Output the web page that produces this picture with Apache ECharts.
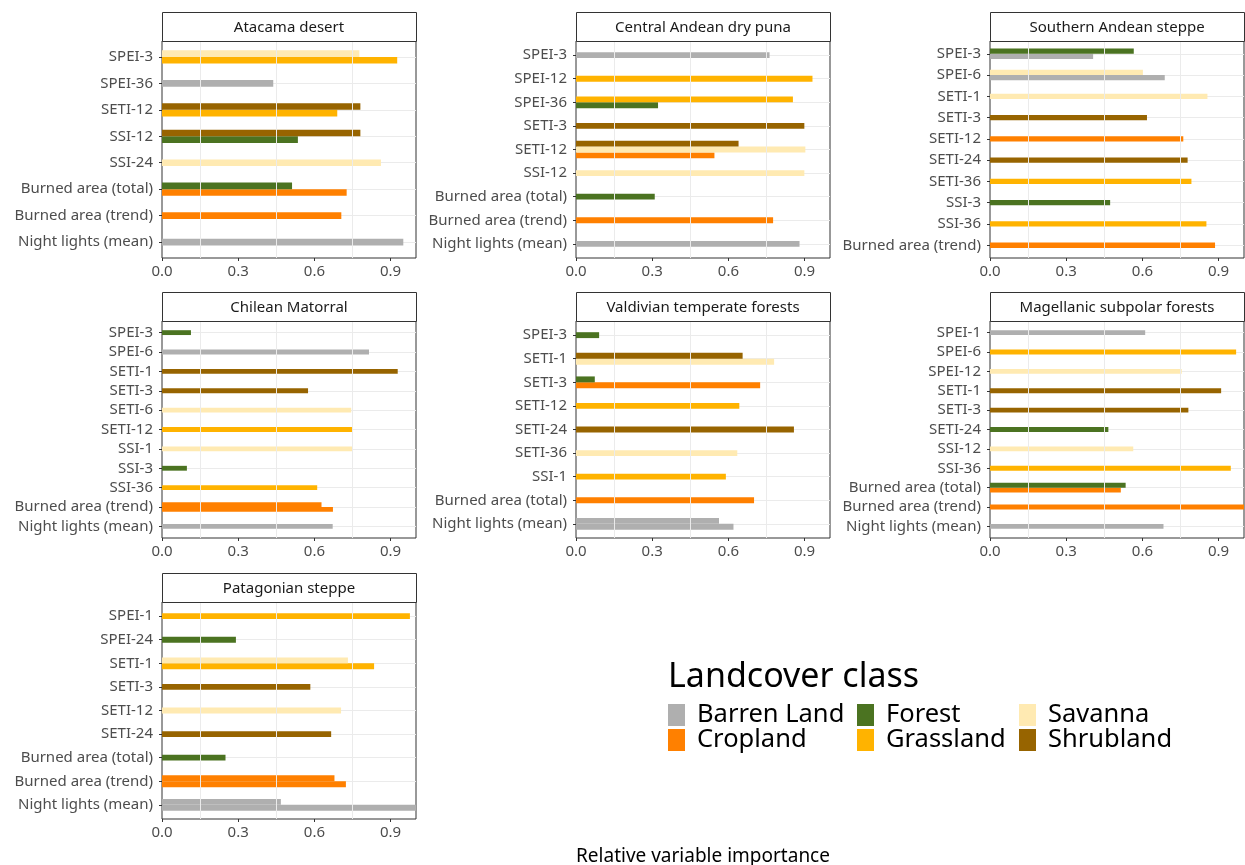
<!DOCTYPE html>
<html>
<head>
<meta charset="utf-8">
<title>Relative variable importance by ecoregion</title>
<script src="https://cdn.jsdelivr.net/npm/echarts@6/dist/echarts.min.js"></script>
<style>
  html, body { margin: 0; padding: 0; background: #fff; }
  #chart { width: 1245px; height: 865px; }
</style>
</head>
<body>
<div id="chart"></div>
<script>
// Landcover classes (legend order) and their fill colours
const classNames = ['Barren Land', 'Cropland', 'Forest', 'Grassland', 'Savanna', 'Shrubland'];
const classColors = ['#afafaf', '#ff8000', '#4b7321', '#ffb300', '#ffeab2', '#976400'];

// x-axis breaks
const xTicks = [0, 0.3, 0.6, 0.9];
const minorBreaks = [0.15, 0.45, 0.75];

// Each row: [variable, landcover class, relative importance]; listed top to bottom
const atacamaRows = [
  ['SPEI-3', 'Savanna', 0.777], ['SPEI-3', 'Grassland', 0.926],
  ['SPEI-36', 'Barren Land', 0.438],
  ['SETI-12', 'Shrubland', 0.781], ['SETI-12', 'Grassland', 0.690],
  ['SSI-12', 'Shrubland', 0.781], ['SSI-12', 'Forest', 0.535],
  ['SSI-24', 'Savanna', 0.862],
  ['Burned area (total)', 'Forest', 0.512], ['Burned area (total)', 'Cropland', 0.727],
  ['Burned area (trend)', 'Cropland', 0.706],
  ['Night lights (mean)', 'Barren Land', 0.950]
];
const centralAndeanRows = [
  ['SPEI-3', 'Barren Land', 0.762],
  ['SPEI-12', 'Grassland', 0.931],
  ['SPEI-36', 'Grassland', 0.854], ['SPEI-36', 'Forest', 0.323],
  ['SETI-3', 'Shrubland', 0.899],
  ['SETI-12', 'Shrubland', 0.640], ['SETI-12', 'Savanna', 0.903], ['SETI-12', 'Cropland', 0.545],
  ['SSI-12', 'Savanna', 0.899],
  ['Burned area (total)', 'Forest', 0.310],
  ['Burned area (trend)', 'Cropland', 0.776],
  ['Night lights (mean)', 'Barren Land', 0.880]
];
const southernAndeanRows = [
  ['SPEI-3', 'Forest', 0.566], ['SPEI-3', 'Barren Land', 0.406],
  ['SPEI-6', 'Savanna', 0.602], ['SPEI-6', 'Barren Land', 0.688],
  ['SETI-1', 'Savanna', 0.856],
  ['SETI-3', 'Shrubland', 0.618],
  ['SETI-12', 'Cropland', 0.761],
  ['SETI-24', 'Shrubland', 0.778],
  ['SETI-36', 'Grassland', 0.793],
  ['SSI-3', 'Forest', 0.473],
  ['SSI-36', 'Grassland', 0.852],
  ['Burned area (trend)', 'Cropland', 0.886]
];
const chileanMatorralRows = [
  ['SPEI-3', 'Forest', 0.114],
  ['SPEI-6', 'Barren Land', 0.815],
  ['SETI-1', 'Shrubland', 0.928],
  ['SETI-3', 'Shrubland', 0.575],
  ['SETI-6', 'Savanna', 0.745],
  ['SETI-12', 'Grassland', 0.748],
  ['SSI-1', 'Savanna', 0.751],
  ['SSI-3', 'Forest', 0.098],
  ['SSI-36', 'Grassland', 0.611],
  ['Burned area (trend)', 'Cropland', 0.628], ['Burned area (trend)', 'Cropland', 0.673],
  ['Night lights (mean)', 'Barren Land', 0.672]
];
const valdivianRows = [
  ['SPEI-3', 'Forest', 0.091],
  ['SETI-1', 'Shrubland', 0.656], ['SETI-1', 'Savanna', 0.780],
  ['SETI-3', 'Forest', 0.074], ['SETI-3', 'Cropland', 0.725],
  ['SETI-12', 'Grassland', 0.643],
  ['SETI-24', 'Shrubland', 0.858],
  ['SETI-36', 'Savanna', 0.635],
  ['SSI-1', 'Grassland', 0.590],
  ['Burned area (total)', 'Cropland', 0.701],
  ['Night lights (mean)', 'Barren Land', 0.563], ['Night lights (mean)', 'Barren Land', 0.620]
];
const magellanicRows = [
  ['SPEI-1', 'Barren Land', 0.611],
  ['SPEI-6', 'Grassland', 0.969],
  ['SPEI-12', 'Savanna', 0.755],
  ['SETI-1', 'Shrubland', 0.910],
  ['SETI-3', 'Shrubland', 0.781],
  ['SETI-24', 'Forest', 0.466],
  ['SSI-12', 'Savanna', 0.564],
  ['SSI-36', 'Grassland', 0.948],
  ['Burned area (total)', 'Forest', 0.534], ['Burned area (total)', 'Cropland', 0.515],
  ['Burned area (trend)', 'Cropland', 1.000],
  ['Night lights (mean)', 'Barren Land', 0.683]
];
const patagonianRows = [
  ['SPEI-1', 'Grassland', 0.976],
  ['SPEI-24', 'Forest', 0.291],
  ['SETI-1', 'Savanna', 0.732], ['SETI-1', 'Grassland', 0.835],
  ['SETI-3', 'Shrubland', 0.584],
  ['SETI-12', 'Savanna', 0.705],
  ['SETI-24', 'Shrubland', 0.666],
  ['Burned area (total)', 'Forest', 0.250],
  ['Burned area (trend)', 'Cropland', 0.679], ['Burned area (trend)', 'Cropland', 0.724],
  ['Night lights (mean)', 'Barren Land', 0.468], ['Night lights (mean)', 'Barren Land', 1.000]
];

const panelTitles = ['Atacama desert', 'Central Andean dry puna', 'Southern Andean steppe',
  'Chilean Matorral', 'Valdivian temperate forests', 'Magellanic subpolar forests', 'Patagonian steppe'];
const panelRows = [atacamaRows, centralAndeanRows, southernAndeanRows,
  chileanMatorralRows, valdivianRows, magellanicRows, patagonianRows];

// Facet layout
const FONT = "'Noto Sans', 'DejaVu Sans', sans-serif";
const AXIS_FONT = 15;
const colLeft = [162, 576, 990];
const stripTop = [12, 292, 573];
const STRIP_H = 29;
const PLOT_W = 254;
const PLOT_H = 217;
const BAR_FRACTION = 0.25;   // thickness of one bar, in category units
const EXPAND = 0.6;          // discrete-axis padding, in category units

const grids = [], xAxes = [], yAxes = [], series = [], graphics = [];

function renderBar(params, api) {
  const value = api.value(0);
  const cat = api.value(1);
  const slot = api.value(2);
  const count = api.value(3);
  const p0 = api.coord([0, cat]);
  const p1 = api.coord([value, cat]);
  const unit = api.size([0, 1])[1];
  const h = unit * BAR_FRACTION;
  const y = p0[1] - count * h / 2 + slot * h;
  return {
    type: 'rect',
    shape: { x: p0[0], y: y, width: p1[0] - p0[0], height: h },
    style: { fill: api.visual('color') }
  };
}

panelRows.forEach((rows, p) => {
  const col = p % 3, row = Math.floor(p / 3);
  const left = colLeft[col];
  const sTop = stripTop[row];
  const pTop = sTop + STRIP_H;
  const vars = [...new Set(rows.map(r => r[0]))];
  const n = vars.length;
  const u = PLOT_H / (n - 1 + 2 * EXPAND);
  const a = 2 * p, b = 2 * p + 1;

  // frame grid: border, x axis, minor vertical gridlines
  grids.push({ left: left, top: pTop, width: PLOT_W, height: PLOT_H, show: true,
    borderColor: '#333', borderWidth: 1, backgroundColor: '#fff' });
  // inner grid: category positions for the bars
  grids.push({ left: left, top: pTop + EXPAND * u, width: PLOT_W, height: (n - 1) * u });

  xAxes.push({
    gridIndex: a, type: 'value', min: 0, max: 1, interval: 0.3,
    splitLine: { show: false }, axisLine: { show: false },
    axisTick: { show: true, length: 3, customValues: xTicks, lineStyle: { color: '#333', width: 1 } },
    axisLabel: { customValues: xTicks, formatter: v => v.toFixed(1), color: '#4d4d4d',
      fontSize: AXIS_FONT, fontFamily: FONT, margin: 6 }
  });
  yAxes.push({ gridIndex: a, type: 'value', min: 0, max: 1, show: false });

  xAxes.push({ gridIndex: b, type: 'value', min: 0, max: 1, show: false });
  yAxes.push({
    gridIndex: b, type: 'category', data: vars, inverse: true, boundaryGap: false,
    axisLine: { show: false },
    axisTick: { show: true, length: 3, interval: 0, lineStyle: { color: '#333', width: 1 } },
    axisLabel: { interval: 0, color: '#4d4d4d', fontSize: AXIS_FONT, fontFamily: FONT, margin: 9 },
    splitLine: { show: true, interval: 0, lineStyle: { color: '#ebebeb', width: 1.2 } }
  });

  series.push({
    type: 'line', xAxisIndex: a, yAxisIndex: a, data: [], z: 1, silent: true,
    markLine: {
      silent: true, symbol: 'none', label: { show: false }, animation: false,
      lineStyle: { color: '#ebebeb', width: 1, type: 'solid' },
      data: minorBreaks.map(v => ({ xAxis: v }))
    }
  });

  // dodge positions within each variable
  const counts = {}, seen = {};
  rows.forEach(r => { counts[r[0]] = (counts[r[0]] || 0) + 1; });
  const items = rows.map(r => {
    const slot = seen[r[0]] || 0;
    seen[r[0]] = slot + 1;
    return { cls: r[1], value: [r[2], vars.indexOf(r[0]), slot, counts[r[0]]] };
  });

  classNames.forEach((cls, k) => {
    const data = items.filter(it => it.cls === cls).map(it => it.value);
    if (!data.length) return;
    series.push({
      type: 'custom', name: cls, xAxisIndex: b, yAxisIndex: b,
      itemStyle: { color: classColors[k] },
      encode: { x: 0, y: 1 },
      renderItem: renderBar,
      data: data, z: 3
    });
  });

  // facet strip
  graphics.push({
    type: 'rect', z: 10,
    shape: { x: left + 0.5, y: sTop + 0.5, width: PLOT_W, height: STRIP_H },
    style: { fill: '#fff', stroke: '#333', lineWidth: 1 }
  });
  graphics.push({
    type: 'text', z: 11, x: left + PLOT_W / 2, y: sTop + STRIP_H / 2 + 1,
    style: { text: panelTitles[p], textAlign: 'center', textVerticalAlign: 'middle',
      fontSize: AXIS_FONT, fontFamily: FONT, fill: '#1a1a1a' }
  });
});

// x-axis title, centred under the facet columns
graphics.push({
  type: 'text', x: (colLeft[0] + colLeft[2] + PLOT_W) / 2, y: 847,
  style: { text: 'Relative variable importance', textAlign: 'center', textVerticalAlign: 'top',
    fontSize: 19, fontFamily: FONT, fill: '#000' }
});

const legendCommon = {
  orient: 'vertical', itemWidth: 17, itemHeight: 22, itemGap: -1, icon: 'rect',
  selectedMode: false, padding: 0,
  textStyle: { fontSize: 25.5, lineHeight: 22, color: '#000', fontFamily: FONT, padding: [0, 0, 0, 7] }
};

const option = {
  animation: false,
  backgroundColor: '#fff',
  title: [{
    text: 'Landcover class', left: 668, top: 660, padding: 0,
    textStyle: { fontSize: 34, fontWeight: 'normal', color: '#000', fontFamily: FONT }
  }],
  legend: [
    Object.assign({}, legendCommon, { left: 668, top: 702, data: [classNames[0], classNames[1]] }),
    Object.assign({}, legendCommon, { left: 857, top: 702, data: [classNames[2], classNames[3]] }),
    Object.assign({}, legendCommon, { left: 1019, top: 702, data: [classNames[4], classNames[5]] })
  ],
  grid: grids,
  xAxis: xAxes,
  yAxis: yAxes,
  series: series,
  graphic: graphics
};

const chart = echarts.init(document.getElementById('chart'), null, { renderer: 'canvas' });
chart.setOption(option);
</script>
</body>
</html>
